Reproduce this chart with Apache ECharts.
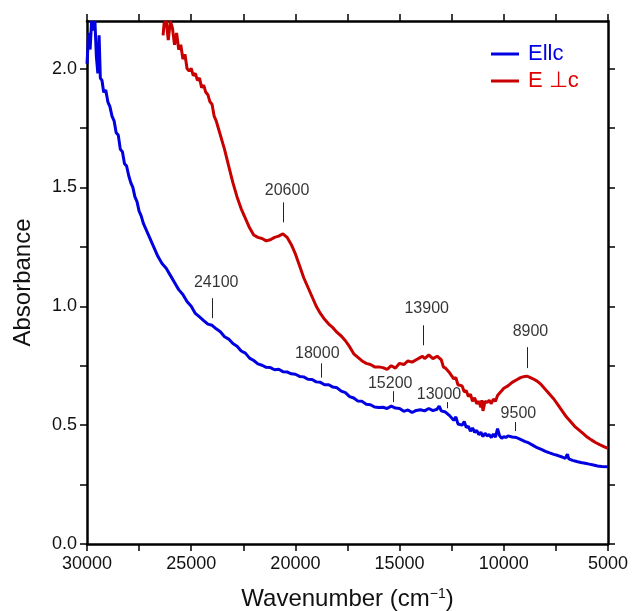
<!DOCTYPE html>
<html><head><meta charset="utf-8">
<script src="https://cdn.jsdelivr.net/npm/echarts@6/dist/echarts.min.js"></script>
<style>html,body{margin:0;padding:0;background:#fff}#c{width:632px;height:611px}</style>
</head><body><div id="c"></div>
<script>
const xTicks=[5000,7500,10000,12500,15000,17500,20000,22500,25000,27500,30000];
const xLabels=[5000,10000,15000,20000,25000,30000];
const yTicks=[0,0.25,0.5,0.75,1.0,1.25,1.5,1.75,2.0];
const yLabels=[0,0.5,1.0,1.5,2.0];

const blueWn=[30000,29920,29850,29780,29700,29620,29550,29480,29420,29360,29280,29200,29100,29000,28900,28800,28700,28600,28500,28400,28300,28200,28100,28000,27900,27800,27700,27600,27500,27400,27300,27200,27000,26800,26600,26400,26200,26000,25800,25600,25400,25200,25000,24800,24600,24400,24200,24000,23800,23600,23400,23200,23000,22800,22600,22400,22200,22000,21800,21600,21400,21200,21000,20800,20600,20400,20200,20000,19800,19600,19400,19200,19000,18800,18600,18400,18200,18000,17800,17600,17400,17200,17000,16800,16600,16400,16200,16000,15800,15600,15400,15200,15000,14800,14600,14400,14200,14000,13800,13600,13400,13200,13100,13000,12800,12600,12400,12300,12200,12000,11900,11800,11700,11600,11500,11400,11300,11200,11100,11000,10900,10800,10700,10600,10500,10400,10300,10200,10100,10000,9900,9800,9600,9400,9200,9000,8800,8600,8400,8200,8000,7800,7600,7400,7200,7050,6950,6880,6700,6500,6300,6100,5900,5700,5500,5300,5000];
const blueAbs=[2.02,2.15,2.08,2.2,2.16,2.2,2.05,1.98,2.14,1.96,1.95,1.90,1.91,1.86,1.84,1.80,1.78,1.73,1.72,1.66,1.65,1.60,1.59,1.55,1.52,1.50,1.46,1.44,1.40,1.38,1.35,1.33,1.29,1.25,1.21,1.18,1.16,1.13,1.10,1.07,1.05,1.02,1.00,0.97,0.955,0.94,0.925,0.92,0.905,0.893,0.872,0.862,0.843,0.832,0.812,0.803,0.782,0.772,0.758,0.752,0.743,0.742,0.733,0.735,0.725,0.724,0.716,0.714,0.705,0.703,0.693,0.692,0.682,0.68,0.67,0.67,0.66,0.657,0.643,0.637,0.62,0.614,0.601,0.6,0.588,0.586,0.576,0.574,0.575,0.57,0.58,0.572,0.57,0.558,0.564,0.553,0.562,0.565,0.56,0.57,0.561,0.567,0.58,0.56,0.555,0.54,0.52,0.535,0.505,0.50,0.515,0.49,0.495,0.475,0.488,0.47,0.478,0.46,0.47,0.452,0.466,0.455,0.46,0.448,0.462,0.45,0.485,0.455,0.445,0.452,0.448,0.455,0.45,0.448,0.44,0.432,0.425,0.415,0.405,0.398,0.39,0.383,0.377,0.372,0.366,0.36,0.378,0.358,0.352,0.347,0.343,0.34,0.336,0.332,0.328,0.326,0.325];

const redWn=[26350,26300,26200,26100,26000,25900,25800,25700,25600,25500,25400,25300,25200,25100,25000,24900,24800,24700,24600,24500,24400,24300,24200,24100,24000,23900,23800,23700,23600,23400,23200,23000,22800,22600,22400,22200,22000,21800,21600,21400,21200,21000,20800,20600,20400,20200,20000,19800,19600,19400,19200,19000,18800,18600,18400,18200,18000,17800,17600,17400,17200,17000,16800,16600,16400,16200,16000,15800,15600,15400,15200,15000,14800,14600,14400,14200,14000,13900,13800,13600,13400,13200,13000,12900,12800,12600,12400,12300,12200,12000,11900,11800,11700,11600,11500,11400,11300,11200,11100,11050,11000,10900,10800,10700,10600,10500,10400,10300,10200,10100,10000,9800,9600,9400,9200,9000,8900,8800,8600,8400,8200,8000,7800,7600,7400,7200,7000,6800,6600,6400,6200,6000,5800,5600,5400,5200,5000];
const redAbs=[2.14,2.19,2.2,2.12,2.2,2.17,2.1,2.15,2.08,2.1,2.04,2.06,2.0,1.99,2.0,1.97,1.98,1.95,1.96,1.92,1.93,1.90,1.89,1.86,1.85,1.80,1.78,1.75,1.72,1.66,1.59,1.52,1.46,1.41,1.37,1.33,1.30,1.29,1.285,1.275,1.28,1.29,1.295,1.305,1.29,1.26,1.22,1.17,1.12,1.08,1.04,1.00,0.97,0.945,0.925,0.91,0.89,0.875,0.855,0.83,0.80,0.785,0.77,0.76,0.755,0.745,0.745,0.742,0.735,0.75,0.74,0.76,0.755,0.77,0.765,0.775,0.785,0.79,0.78,0.795,0.78,0.79,0.775,0.745,0.74,0.72,0.695,0.70,0.67,0.665,0.64,0.645,0.62,0.63,0.60,0.615,0.59,0.60,0.575,0.605,0.56,0.60,0.595,0.605,0.59,0.61,0.60,0.625,0.635,0.645,0.655,0.665,0.68,0.69,0.70,0.705,0.706,0.703,0.695,0.685,0.67,0.65,0.63,0.61,0.585,0.56,0.535,0.515,0.495,0.48,0.465,0.45,0.438,0.427,0.418,0.41,0.402];

const annText=['20600','24100','18000','13900','8900','15200','13000','9500'];
const annTickX=[20596,23980,18770,13860,8855,15300,12710,9430];
const annTickLow=[1.353,0.95,0.70,0.836,0.74,0.597,0.571,0.475];
const annTickHigh=[1.437,1.034,0.76,0.92,0.828,0.643,0.597,0.513];
const annLabelX=[20400,23800,18950,13700,8720,15450,13110,9300];
const annLabelY=[1.487,1.10,0.80,0.99,0.893,0.674,0.63,0.548];

const FONT='"Liberation Sans", Arial, sans-serif';
const BLUE='#0000e0', RED='#c80000';
const zip=(a,b)=>a.map((v,i)=>[v,b[i]]);

const axisLine={show:true,onZero:false,lineStyle:{color:'#000',width:2.5}};
const tickStyle={lineStyle:{color:'#000',width:1.5},length:7,inside:false};

const chart=echarts.init(document.getElementById('c'),null,{renderer:'canvas'});
chart.setOption({
  animation:false,
  backgroundColor:'#fff',
  grid:{left:87,right:24,top:21,bottom:67,containLabel:false,outerBoundsMode:'none'},
  legend:{
    orient:'vertical',left:486,top:38,itemWidth:28,itemHeight:3,itemGap:5,icon:'rect',
    textStyle:{fontFamily:FONT,fontSize:22,padding:[0,0,0,4]},
    data:[{name:'Ellc',textStyle:{color:'#0000e6'}},{name:'E ⊥c',textStyle:{color:'#e00000'}}]
  },
  xAxis:[{
    type:'value',min:5000,max:30000,inverse:true,position:'bottom',
    axisLine:axisLine,splitLine:{show:false},
    axisTick:Object.assign({customValues:xTicks},tickStyle),
    axisLabel:{customValues:xLabels,formatter:v=>String(v),fontFamily:FONT,fontSize:18,color:'#111',margin:11},
    name:'Wavenumber (cm{sup|\u22121})',nameLocation:'middle',nameGap:43,
    nameTextStyle:{fontFamily:FONT,fontSize:24,color:'#111',rich:{sup:{fontFamily:FONT,fontSize:14,color:'#111',verticalAlign:'top',padding:[0,0,10,0]}}}
  },{
    type:'value',min:5000,max:30000,inverse:true,position:'top',
    axisLine:axisLine,splitLine:{show:false},
    axisTick:Object.assign({customValues:xTicks},tickStyle),
    axisLabel:{show:false}
  }],
  yAxis:[{
    type:'value',min:0,max:2.2,position:'left',
    axisLine:axisLine,splitLine:{show:false},
    axisTick:Object.assign({customValues:yTicks},tickStyle),
    axisLabel:{customValues:yLabels,formatter:v=>v.toFixed(1),fontFamily:FONT,fontSize:18,color:'#111',margin:10},
    name:'Absorbance',nameLocation:'middle',nameGap:52,
    nameTextStyle:{fontFamily:FONT,fontSize:24,color:'#111'}
  },{
    type:'value',min:0,max:2.2,position:'right',
    axisLine:axisLine,splitLine:{show:false},
    axisTick:Object.assign({customValues:yTicks},tickStyle),
    axisLabel:{show:false}
  }],
  series:[
    {name:'Ellc',type:'line',data:zip(blueWn,blueAbs),showSymbol:false,symbol:'none',clip:true,
     lineStyle:{color:BLUE,width:3},itemStyle:{color:BLUE}},
    {name:'E ⊥c',type:'line',data:zip(redWn,redAbs),showSymbol:false,symbol:'none',clip:true,
     lineStyle:{color:RED,width:3},itemStyle:{color:RED}},
    {name:'ann',type:'scatter',symbolSize:0,silent:true,
     data:annText.map((t,i)=>({value:[annLabelX[i],annLabelY[i]],name:t})),
     label:{show:true,position:'inside',formatter:p=>p.name,fontFamily:FONT,fontSize:16,color:'#000'},
     markLine:{silent:true,symbol:['none','none'],label:{show:false},
       lineStyle:{color:'#222',width:1,type:'solid'},
       data:annText.map((t,i)=>[{coord:[annTickX[i],annTickLow[i]]},{coord:[annTickX[i],annTickHigh[i]]}])}
    }
  ]
});
</script></body></html>
